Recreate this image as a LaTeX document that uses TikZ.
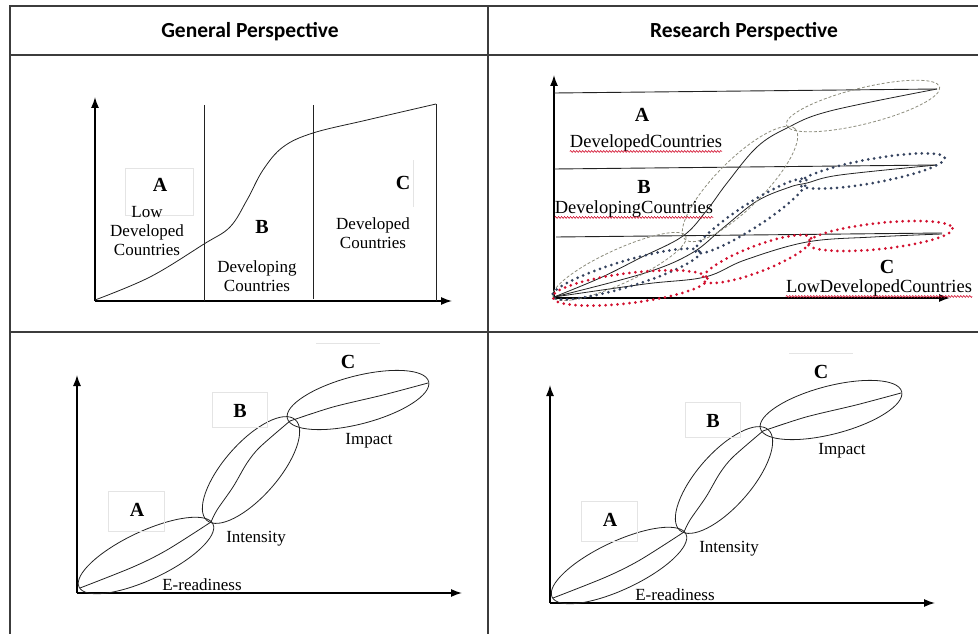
\documentclass[tikz,border=0pt]{standalone}
\usepackage{fontspec}
\setmainfont{Liberation Serif}
\newfontfamily\headfont{Carlito}
\usepackage{tikz}
\usetikzlibrary{arrows.meta,positioning,decorations.pathmorphing}
\definecolor{Frame}{HTML}{3C3C3C}
\definecolor{Ink}{HTML}{222222}
\definecolor{Olive}{HTML}{8C8C7C}
\definecolor{Slate}{HTML}{34425E}
\definecolor{Crimson}{HTML}{D2102E}
\definecolor{Ghost}{HTML}{E4E4E4}
\tikzset{
  frame/.style={line width=1.5pt,color=Frame},
  head/.style={font=\headfont\bfseries\fontsize{21.5}{24}\selectfont,inner sep=0pt},
  axis/.style={-{Latex[length=11pt,width=8pt]},line width=1.4pt,color=black},
  divider/.style={line width=0.9pt,color=Ink},
  curve/.style={line width=0.8pt,color=Ink},
  ring/.style={line width=0.8pt,color=Ink},
  dashring/.style={line width=0.8pt,color=Olive,dash pattern=on 3pt off 2pt},
  bluering/.style={line width=3pt,color=Slate,line cap=round,dash pattern=on 0pt off 6pt},
  redring/.style={line width=3pt,color=Crimson,line cap=round,dash pattern=on 0pt off 6pt},
  txt/.style={font=\fontsize{17}{19}\selectfont,align=center,inner sep=0pt},
  wide/.style={font=\fontsize{18.5}{20}\selectfont,inner sep=0pt},
  letter/.style={font=\bfseries\fontsize{20}{20}\selectfont,inner sep=0pt},
  ghost/.style={draw=Ghost,line width=0.7pt},
  spell/.style={draw=Crimson,line width=0.6pt,decorate,decoration={snake,amplitude=0.9pt,segment length=3pt}}
}

\begin{document}
\begin{tikzpicture}[x=1pt,y=-1pt]
  \useasboundingbox (0,0) rectangle (978,634);
  % table
  \draw[frame] (978,6) -| (10,634);
  \draw[frame] (10,55) -- (978,55);
  \draw[frame] (10,332) -- (978,332);
  \draw[frame] (488,6) -- (488,634);
  \node[head] (genHead) at (250,32) {General Perspective};
  \node[head] (resHead) at (744,32) {Research Perspective};

  % general perspective: s-curve
  \coordinate (glO) at (95,301);
  \draw[axis] (glO) -- (95,97);
  \draw[axis] (glO) -- (452,301);
  \draw[divider] (204,105) -- (204,301);
  \draw[divider] (313,105) -- (313,299);
  \draw[divider] (436,104) -- (436,301);
  \draw[curve] plot[smooth,tension=0.6] coordinates {(95,300) (150,277) (204,244) (230,227) (247,200) (263,170) (283,147) (313,133) (367,120) (436,104)};
  \draw[ghost] (125,168) rectangle (193,215);
  \draw[ghost] (413,160) -- (413,207);
  \node[letter] (glA) at (160,185) {A};
  \node[txt] (glLow) at (147,231) {Low\\Developed\\Countries};
  \node[letter] (glB) at (262,227) {B};
  \node[txt] (glDev) at (257,276) {Developing\\Countries};
  \node[letter] (glC) at (403,183) {C};
  \node[txt] (glDvd) at (373,233) {Developed\\Countries};

  % research perspective: three groups
  \coordinate (grO) at (554,298);
  \draw[axis] (grO) -- (554,75);
  \draw[axis] (grO) -- (950,298);
  \draw[divider] (554,93) -- (937,89);
  \draw[divider] (554,169) -- (937,165);
  \draw[divider] (556,237) -- (942,233);
  \draw[curve] plot[smooth,tension=0.6] coordinates {(554,297) (600,278) (640,258) (683,236) (707,210) (727,183) (757,147) (787,128) (830,111) (937,89)};
  \draw[curve] plot[smooth,tension=0.6] coordinates {(554,297) (645,273) (692,253) (723,228) (757,201) (790,187) (807,183) (840,175) (937,165)};
  \draw[curve] plot[smooth,tension=0.6] coordinates {(554,297) (645,284) (705,277) (745,260) (807,242) (873,237) (942,234)};
  \draw[dashring,rotate around={24.6:(619.5,266.5)}] (619.5,266.5) ellipse [x radius=73,y radius=17];
  \draw[dashring,rotate around={45:(740,184)}] (740,184) ellipse [x radius=78,y radius=24];
  \draw[dashring,rotate around={13.9:(863,106)}] (863,106) ellipse [x radius=79,y radius=18];
  \draw[bluering,rotate around={16.7:(626,274)}] (626,274) ellipse [x radius=77,y radius=13];
  \draw[bluering,rotate around={33:(751,216)}] (751,216) ellipse [x radius=66,y radius=12];
  \draw[bluering,rotate around={10.2:(872,171)}] (872,171) ellipse [x radius=74,y radius=12];
  \draw[redring,rotate around={7:(630,288)}] (630,288) ellipse [x radius=78,y radius=15];
  \draw[redring,rotate around={21:(757,259)}] (757,259) ellipse [x radius=58,y radius=13];
  \draw[redring,rotate around={6:(880,236)}] (880,236) ellipse [x radius=73,y radius=13];
  \node[letter] (grA) at (642,115) {A};
  \node[wide] (grDvd) at (646,143) {DevelopedCountries};
  \node[letter] (grB) at (644,187) {B};
  \node[wide] (grDev) at (634,209) {DevelopingCountries};
  \node[letter] (grC) at (887,267) {C};
  \node[wide] (grLow) at (879,288) {LowDevelopedCountries};
  \draw[spell] ([yshift=-4pt]grDvd.base west) -- ([yshift=-4pt]grDvd.base east);
  \draw[spell] ([yshift=-4pt]grDev.base west) -- ([yshift=-4pt]grDev.base east);
  \draw[spell] ([yshift=-4pt]grLow.base west) -- ([yshift=-4pt]grLow.base east);

  % general perspective: stages
  \coordinate (blO) at (77,593);
  \draw[axis] (blO) -- (77,375);
  \draw[axis] (blO) -- (462,593);
  \draw[ring,rotate around={25.2:(146,555.5)}] (146,555.5) ellipse [x radius=74,y radius=24];
  \draw[ring,rotate around={48.7:(251,470)}] (251,470) ellipse [x radius=67,y radius=27];
  \draw[ring,rotate around={14.6:(358,400)}] (358,400) ellipse [x radius=73,y radius=24];
  \draw[curve] plot[smooth] coordinates {(80,588) (133,567) (167,550) (211,522)};
  \draw[curve] plot[smooth] coordinates {(211,522) (217,510) (233,487) (247,463) (260,447) (290,421)};
  \draw[curve] plot[smooth] coordinates {(290,421) (333,407) (383,395) (428,383)};
  \draw[ghost] (108,491) rectangle (164,531);
  \draw[ghost] (212,392) rectangle (267,427);
  \draw[ghost] (316,343) -- (380,343);
  \node[letter] (blA) at (137,510) {A};
  \node[letter] (blB) at (240,411) {B};
  \node[letter] (blC) at (348,362) {C};
  \node[txt] (blImp) at (369,441) {Impact};
  \node[txt] (blInt) at (256,539) {Intensity};
  \node[txt] (blE) at (202,585) {E-readiness};

  % research perspective: stages
  \begin{scope}[shift={(473,10)}]
    \coordinate (brO) at (77,593);
    \draw[axis] (brO) -- (77,375);
    \draw[axis] (brO) -- (462,593);
    \draw[ring,rotate around={25.2:(146,555.5)}] (146,555.5) ellipse [x radius=74,y radius=24];
    \draw[ring,rotate around={48.7:(251,470)}] (251,470) ellipse [x radius=67,y radius=27];
    \draw[ring,rotate around={14.6:(358,400)}] (358,400) ellipse [x radius=73,y radius=24];
    \draw[curve] plot[smooth] coordinates {(80,588) (133,567) (167,550) (211,522)};
    \draw[curve] plot[smooth] coordinates {(211,522) (217,510) (233,487) (247,463) (260,447) (290,421)};
    \draw[curve] plot[smooth] coordinates {(290,421) (333,407) (383,395) (428,383)};
    \draw[ghost] (108,491) rectangle (164,531);
    \draw[ghost] (212,392) rectangle (267,427);
    \draw[ghost] (316,343) -- (380,343);
    \node[letter] (brA) at (137,510) {A};
    \node[letter] (brB) at (240,411) {B};
    \node[letter] (brC) at (348,362) {C};
    \node[txt] (brImp) at (369,441) {Impact};
    \node[txt] (brInt) at (256,539) {Intensity};
    \node[txt] (brE) at (202,585) {E-readiness};
  \end{scope}
\end{tikzpicture}
\end{document}
